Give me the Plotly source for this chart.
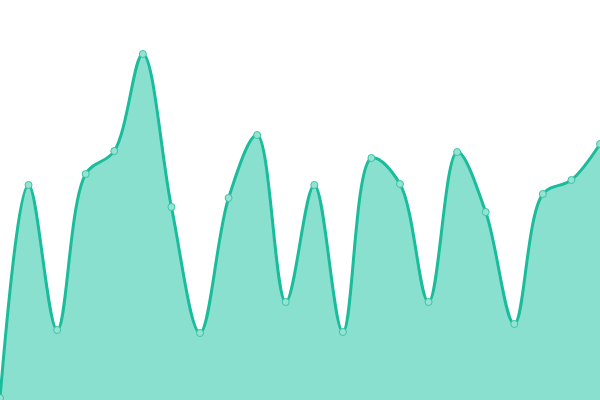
import plotly.graph_objects as go

# Index of each sample and its value (pixel height above the bottom edge).
x_vals = list(range(22))
y_vals = [2, 215, 70, 226, 249, 346, 193, 67, 202, 265, 98,
          215, 68, 242, 216, 98, 248, 188, 76, 206, 220, 256]

LINE = "#1abc9c"
FILL = "#8ae0cf"

fig = go.Figure()
fig.add_trace(go.Scatter(
    x=x_vals,
    y=y_vals,
    mode="lines+markers",
    fill="tozeroy",
    fillcolor=FILL,
    line=dict(color=LINE, width=3, shape="spline", smoothing=1),
    marker=dict(size=7, color="#95e3d2", line=dict(color="#3cc4a8", width=1)),
    hoverinfo="skip",
    cliponaxis=False,
))

fig.update_layout(
    width=600,
    height=400,
    margin=dict(l=0, r=0, t=0, b=0),
    paper_bgcolor="white",
    plot_bgcolor="white",
    showlegend=False,
    xaxis=dict(range=[0, 21], visible=False, fixedrange=True),
    yaxis=dict(range=[0, 400], visible=False, fixedrange=True),
)

# page body has an 8px default margin, drop it so the chart sits flush
fig.write_html(
    "out.html",
    config={"displayModeBar": False},
    post_script="document.body.style.margin='0';document.body.style.overflow='hidden';",
)
